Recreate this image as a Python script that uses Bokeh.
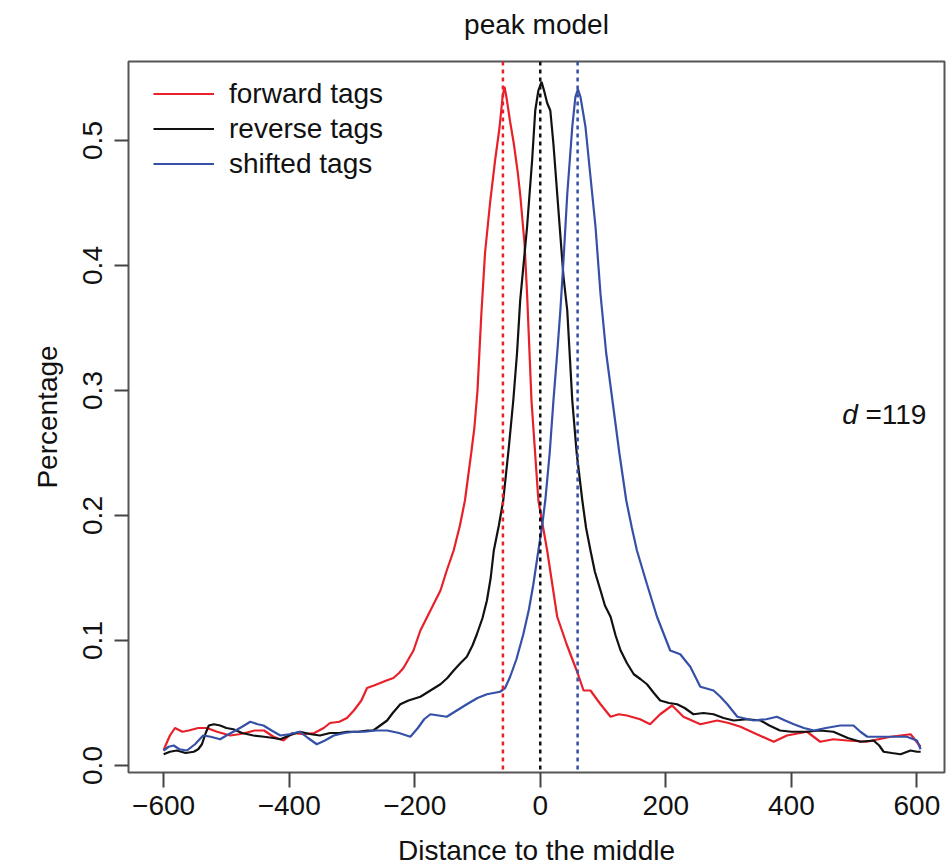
from bokeh.plotting import figure
from bokeh.models import Span, Label, Legend, LegendItem, Range1d, FixedTicker, LinearAxis
from bokeh.embed import file_html
from bokeh.resources import INLINE

# ---- data ----
d = 119

fwd_x = [-600, -597, -590, -582, -570, -560, -545, -531, -515, -494, -480, -470, -455, -440, -425, -409,
         -395, -376, -360, -345, -335, -320, -308, -297, -285, -276, -265, -255, -245, -234, -225, -218,
         -210, -202, -191, -183, -175, -159, -149, -138, -128, -120, -110, -105, -100, -94, -88, -80, -72,
         -65, -60, -57, -54, -48, -42, -36, -32, -25, -21, -14, -3, 11, 27, 42, 58, 69, 80, 96, 112, 125,
         138, 159, 175, 191, 210, 228, 255, 282, 300, 319, 345, 372, 393, 425, 446, 467, 489, 520, 558, 590, 606]
fwd_y = [0.012, 0.016, 0.024, 0.030, 0.027, 0.028, 0.030, 0.030, 0.027, 0.024, 0.025, 0.026, 0.028, 0.028,
         0.023, 0.020, 0.026, 0.025, 0.026, 0.030, 0.034, 0.035, 0.038, 0.044, 0.052, 0.062, 0.064, 0.066,
         0.068, 0.070, 0.074, 0.078, 0.085, 0.092, 0.108, 0.116, 0.124, 0.140, 0.156, 0.172, 0.192, 0.212,
         0.250, 0.270, 0.300, 0.360, 0.410, 0.450, 0.484, 0.510, 0.535, 0.543, 0.535, 0.515, 0.497, 0.475,
         0.457, 0.417, 0.377, 0.292, 0.212, 0.172, 0.119, 0.097, 0.076, 0.060, 0.060, 0.049, 0.039, 0.041,
         0.040, 0.037, 0.033, 0.041, 0.048, 0.039, 0.033, 0.036, 0.034, 0.031, 0.025, 0.019, 0.024, 0.027,
         0.019, 0.021, 0.020, 0.019, 0.023, 0.025, 0.015]

rev_x = [-600, -590, -579, -565, -552, -545, -539, -533, -528, -520, -510, -500, -489, -475, -457, -440,
         -425, -414, -400, -383, -365, -351, -335, -320, -308, -290, -275, -266, -255, -244, -235, -223,
         -210, -191, -175, -159, -148, -138, -127, -117, -108, -101, -92, -85, -79, -74, -66, -59, -50, -43,
         -37, -32, -21, -13, -8, -3, 2, 6, 11, 16, 21, 29, 37, 43, 51, 58, 67, 73, 80, 87, 96, 103, 112, 120,
         128, 138, 149, 160, 170, 181, 191, 205, 218, 230, 244, 260, 276, 292, 308, 330, 351, 365, 382, 400,
         425, 445, 467, 490, 510, 531, 540, 547, 560, 574, 590, 600, 606]
rev_y = [0.009, 0.011, 0.012, 0.010, 0.011, 0.013, 0.017, 0.026, 0.032, 0.033, 0.032, 0.030, 0.029, 0.026,
         0.024, 0.023, 0.022, 0.021, 0.024, 0.027, 0.025, 0.024, 0.026, 0.026, 0.027, 0.027, 0.028, 0.028,
         0.032, 0.036, 0.042, 0.049, 0.052, 0.055, 0.060, 0.065, 0.070, 0.076, 0.082, 0.087, 0.096, 0.105,
         0.118, 0.132, 0.150, 0.172, 0.192, 0.212, 0.255, 0.292, 0.330, 0.372, 0.431, 0.484, 0.524, 0.540,
         0.547, 0.540, 0.530, 0.524, 0.497, 0.444, 0.391, 0.364, 0.292, 0.250, 0.212, 0.190, 0.172, 0.155,
         0.140, 0.128, 0.119, 0.104, 0.092, 0.082, 0.073, 0.069, 0.065, 0.058, 0.052, 0.050, 0.049, 0.046,
         0.041, 0.042, 0.041, 0.038, 0.036, 0.037, 0.036, 0.032, 0.028, 0.027, 0.027, 0.028, 0.027, 0.022,
         0.019, 0.020, 0.016, 0.011, 0.010, 0.009, 0.012, 0.011, 0.011]

sh_x = [-600, -592, -584, -575, -563, -550, -537, -525, -510, -500, -489, -475, -462, -450, -441, -428,
        -414, -400, -383, -370, -356, -343, -329, -312, -297, -280, -262, -244, -225, -207, -195, -185,
        -175, -162, -149, -133, -117, -100, -85, -64, -56, -48, -38, -27, -18, -11, -3, 3, 8, 15, 21, 27,
        32, 37, 43, 51, 56, 60, 64, 72, 80, 88, 96, 105, 115, 126, 137, 146, 154, 170, 186, 207, 223, 239,
        255, 276, 287, 298, 314, 340, 360, 377, 390, 404, 420, 436, 455, 478, 499, 510, 521, 553, 584, 600, 606]
sh_y = [0.012, 0.015, 0.016, 0.013, 0.012, 0.017, 0.024, 0.023, 0.021, 0.024, 0.027, 0.031, 0.035, 0.033,
        0.032, 0.028, 0.024, 0.025, 0.027, 0.022, 0.017, 0.020, 0.024, 0.026, 0.027, 0.027, 0.028, 0.028,
        0.026, 0.023, 0.030, 0.037, 0.041, 0.040, 0.039, 0.044, 0.049, 0.054, 0.057, 0.059, 0.062, 0.071,
        0.085, 0.105, 0.125, 0.145, 0.172, 0.192, 0.212, 0.250, 0.292, 0.330, 0.364, 0.404, 0.457, 0.511,
        0.535, 0.541, 0.535, 0.511, 0.471, 0.431, 0.377, 0.330, 0.292, 0.250, 0.212, 0.190, 0.172, 0.145,
        0.119, 0.092, 0.089, 0.079, 0.063, 0.060, 0.055, 0.049, 0.039, 0.036, 0.037, 0.039, 0.036, 0.033,
        0.030, 0.028, 0.030, 0.032, 0.032, 0.027, 0.023, 0.023, 0.023, 0.020, 0.013]

x_ticks = [-600, -400, -200, 0, 200, 400, 600]
x_tick_labels = ["\u2212600", "\u2212400", "\u2212200", "0", "200", "400", "600"]
y_ticks = [0.0, 0.1, 0.2, 0.3, 0.4, 0.5]
y_tick_labels = ["0.0", "0.1", "0.2", "0.3", "0.4", "0.5"]
title_text = "peak model"

FONT = "Liberation Sans"
FS = "28px"
RED, BLACK, BLUE = "#e8202a", "#111111", "#3550a6"
FW, FH = 816, 711

p = figure(frame_width=FW, frame_height=FH,
           x_range=Range1d(-656, 644), y_range=Range1d(-0.0056, 0.5632),
           output_backend="svg", toolbar_location=None,
           min_border_left=128, min_border_right=6, min_border_top=61, min_border_bottom=94)

p.xgrid.visible = False
p.ygrid.visible = False
p.outline_line_color = "#555555"
p.outline_line_width = 2

for ax in (p.xaxis[0], p.yaxis[0]):
    ax.axis_line_color = None
    ax.major_tick_line_color = "#444444"
    ax.major_tick_line_width = 2
    ax.major_tick_in = 0
    ax.minor_tick_line_color = None
    ax.major_label_text_font = FONT
    ax.major_label_text_font_size = FS
    ax.major_label_text_color = "#111111"
    ax.axis_label_text_font = FONT
    ax.axis_label_text_font_size = FS
    ax.axis_label_text_font_style = "normal"
    ax.axis_label_text_color = "#111111"

p.xaxis.ticker = FixedTicker(ticks=x_ticks)
p.xaxis.major_label_overrides = dict(zip(x_ticks, x_tick_labels))
p.xaxis.major_tick_out = 15
p.xaxis.major_label_standoff = 8
p.xaxis.axis_label = "Distance to the middle"
p.xaxis.axis_label_standoff = 17

p.yaxis.ticker = FixedTicker(ticks=y_ticks)
p.yaxis.major_label_overrides = dict(zip(y_ticks, y_tick_labels))
p.yaxis.major_label_orientation = "vertical"
p.yaxis.major_tick_out = 14
p.yaxis.major_label_standoff = 13
p.yaxis.axis_label = "Percentage"
p.yaxis.axis_label_standoff = 17

# title: an above axis with no ticks that only carries the label
top = LinearAxis(ticker=FixedTicker(ticks=[]), axis_line_color=None,
                 major_tick_line_color=None, minor_tick_line_color=None,
                 major_tick_out=0, major_tick_in=0,
                 axis_label=title_text, axis_label_standoff=22,
                 axis_label_text_font=FONT, axis_label_text_font_size=FS,
                 axis_label_text_font_style="normal", axis_label_text_color="#111111")
p.add_layout(top, "above")

# dashed vertical markers at the peak positions
for loc, col in ((-d / 2, RED), (0, BLACK), (d / 2, BLUE)):
    p.add_layout(Span(location=loc, dimension="height", line_color=col,
                      line_width=2.5, line_dash="4 4"))

r_f = p.line(fwd_x, fwd_y, line_color=RED, line_width=2.2)
r_r = p.line(rev_x, rev_y, line_color=BLACK, line_width=2.2)
r_s = p.line(sh_x, sh_y, line_color=BLUE, line_width=2.2)

legend = Legend(items=[LegendItem(label="forward tags", renderers=[r_f]),
                       LegendItem(label="reverse tags", renderers=[r_r]),
                       LegendItem(label="shifted tags", renderers=[r_s])],
                location=(25, 591), border_line_color=None, background_fill_alpha=0,
                label_text_font=FONT, label_text_font_size=FS, label_text_color="#111111",
                glyph_width=61, glyph_height=35, label_height=35, label_standoff=15,
                spacing=0, padding=0, margin=0)
p.add_layout(legend)

p.add_layout(Label(x=481, y=0.281, text="d", text_font=FONT, text_font_size=FS,
                   text_font_style="italic", text_baseline="middle", text_align="left",
                   text_color="#111111"))
p.add_layout(Label(x=518, y=0.281, text="=%d" % d, text_font=FONT, text_font_size=FS,
                   text_baseline="middle", text_align="left", text_color="#111111"))

open("out.html", "w").write(file_html(p, INLINE))
